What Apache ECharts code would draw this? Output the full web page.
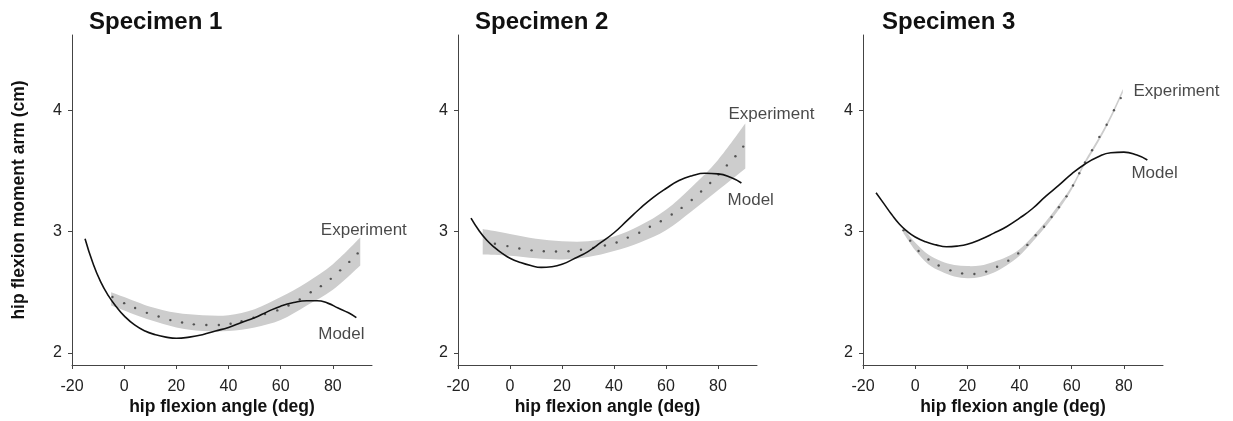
<!DOCTYPE html>
<html><head><meta charset="utf-8">
<script src="https://cdn.jsdelivr.net/npm/echarts@6/dist/echarts.min.js"></script>
<style>html,body{margin:0;padding:0;background:#fff}#c{width:1233px;height:421px}</style>
</head><body><div id="c"></div>
<script>
const titles = ['Specimen 1', 'Specimen 2', 'Specimen 3'];
const xTicks = [-20, 0, 20, 40, 60, 80];
const yTicks = [2, 3, 4];
const xAxisName = 'hip flexion angle (deg)';
const yAxisName = 'hip flexion moment arm (cm)';
const expLabel = 'Experiment';
const modelLabel = 'Model';

// Specimen 1
const s1ModelX = [-15, -12, -9, -6, -3, 0, 4, 8, 12, 16, 20, 25, 30, 35, 40, 45, 50, 55, 60, 65, 70, 74, 78, 82, 86, 89];
const s1ModelY = [2.94, 2.74, 2.585, 2.47, 2.38, 2.305, 2.23, 2.18, 2.15, 2.13, 2.12, 2.13, 2.15, 2.18, 2.21, 2.25, 2.29, 2.34, 2.385, 2.415, 2.43, 2.43, 2.41, 2.37, 2.33, 2.29];
const s1ExpX = [-4.5, 0, 4.2, 8.7, 13.2, 17.7, 22.2, 26.7, 31.5, 36.3, 40.8, 45, 49.6, 54, 58.7, 63, 67.3, 71.5, 75.4, 79.2, 82.8, 86.3, 89.5];
const s1ExpY = [2.46, 2.41, 2.37, 2.33, 2.30, 2.27, 2.25, 2.235, 2.23, 2.23, 2.24, 2.26, 2.29, 2.32, 2.35, 2.39, 2.44, 2.50, 2.55, 2.61, 2.68, 2.75, 2.82];
const s1BandX = [-5, 0, 10, 20, 30, 40, 50, 60, 70, 80, 90.5];
const s1BandUpper = [2.50, 2.46, 2.38, 2.33, 2.31, 2.31, 2.36, 2.46, 2.58, 2.73, 2.95];
const s1BandLower = [2.39, 2.35, 2.27, 2.21, 2.18, 2.18, 2.21, 2.27, 2.39, 2.52, 2.72];

// Specimen 2
const s2ModelX = [-15, -12, -9, -6, -3, 0, 4, 8, 12, 16, 20, 25, 30, 35, 40, 45, 50, 55, 60, 65, 70, 75, 80, 85, 89];
const s2ModelY = [3.11, 3.01, 2.93, 2.87, 2.82, 2.78, 2.745, 2.72, 2.705, 2.71, 2.73, 2.78, 2.835, 2.91, 2.99, 3.09, 3.19, 3.28, 3.355, 3.42, 3.46, 3.48, 3.475, 3.445, 3.40];
const s2ExpX = [-5.8, -1, 3.6, 8.3, 13, 17.7, 22.5, 27.3, 32, 36.5, 41, 45.3, 49.7, 53.8, 58, 62.2, 66, 69.9, 73.5, 77, 80.2, 83.4, 86.7, 89.7];
const s2ExpY = [2.90, 2.88, 2.86, 2.845, 2.837, 2.835, 2.838, 2.85, 2.865, 2.885, 2.91, 2.95, 2.99, 3.04, 3.085, 3.14, 3.195, 3.26, 3.33, 3.40, 3.47, 3.545, 3.62, 3.70];
const s2BandX = [-10.5, 0, 10, 20, 30, 40, 50, 60, 70, 80, 90.5];
const s2BandUpper = [3.02, 2.98, 2.94, 2.92, 2.92, 2.96, 3.05, 3.18, 3.37, 3.59, 3.89];
const s2BandLower = [2.81, 2.80, 2.78, 2.77, 2.79, 2.84, 2.91, 3.01, 3.17, 3.34, 3.52];

// Specimen 3
const s3ModelX = [-15, -12, -9, -6, -3, 0, 4, 8, 12, 16, 20, 25, 30, 35, 40, 45, 50, 55, 60, 65, 70, 75, 80, 85, 89];
const s3ModelY = [3.32, 3.23, 3.14, 3.06, 3.00, 2.955, 2.915, 2.89, 2.875, 2.88, 2.895, 2.935, 2.985, 3.04, 3.11, 3.19, 3.29, 3.38, 3.475, 3.555, 3.615, 3.65, 3.655, 3.63, 3.59];
const s3ExpX = [-4.5, -1.9, 1.3, 5.1, 9, 13.5, 18, 22.7, 27.2, 31.4, 35.7, 39.5, 43, 46.2, 49.4, 52.3, 55.1, 58, 60.5, 62.9, 65.1, 67.8, 70.6, 73.4, 76.2, 78.8];
const s3ExpY = [3.01, 2.925, 2.84, 2.77, 2.72, 2.68, 2.655, 2.65, 2.67, 2.71, 2.76, 2.82, 2.89, 2.97, 3.04, 3.12, 3.20, 3.29, 3.38, 3.48, 3.57, 3.67, 3.78, 3.88, 4.00, 4.10];
const s3BandX = [-4.5, 0, 5, 10, 15, 20, 25, 30, 35, 40, 45, 50, 55, 60, 65, 70, 75, 79.6];
const s3BandUpper = [3.03, 2.91, 2.81, 2.755, 2.725, 2.715, 2.72, 2.75, 2.79, 2.855, 2.96, 3.08, 3.22, 3.375, 3.58, 3.76, 3.96, 4.175];
const s3BandLower = [2.985, 2.845, 2.73, 2.67, 2.63, 2.615, 2.625, 2.66, 2.72, 2.80, 2.915, 3.04, 3.18, 3.345, 3.55, 3.73, 3.93, 4.145];

// label anchors (data coordinates where annotation text starts)
const expLabelAt = [[75.2, 3.01], [83.8, 3.97], [83.5, 4.155]];
const modelLabelAt = [[74.2, 2.15], [83.5, 3.26], [82.7, 3.48]];

const specimens = [
  {mx: s1ModelX, my: s1ModelY, ex: s1ExpX, ey: s1ExpY, bx: s1BandX, bu: s1BandUpper, bl: s1BandLower},
  {mx: s2ModelX, my: s2ModelY, ex: s2ExpX, ey: s2ExpY, bx: s2BandX, bu: s2BandUpper, bl: s2BandLower},
  {mx: s3ModelX, my: s3ModelY, ex: s3ExpX, ey: s3ExpY, bx: s3BandX, bu: s3BandUpper, bl: s3BandLower}
];

const FONT = '"Liberation Sans", Arial, Helvetica, sans-serif';
const gridLefts = [72, 458, 863];
const gridWidths = [300, 299, 300];
const titleLefts = [89, 475, 882];

// Catmull-Rom spline through pixel points -> SVG path commands (no leading M)
function splineCmds(p) {
  let d = '';
  for (let k = 0; k < p.length - 1; k++) {
    const p0 = p[Math.max(k - 1, 0)], p1 = p[k], p2 = p[k + 1], p3 = p[Math.min(k + 2, p.length - 1)];
    const c1 = [p1[0] + (p2[0] - p0[0]) / 6, p1[1] + (p2[1] - p0[1]) / 6];
    const c2 = [p2[0] - (p3[0] - p1[0]) / 6, p2[1] - (p3[1] - p1[1]) / 6];
    d += ' C' + c1[0].toFixed(2) + ' ' + c1[1].toFixed(2) + ' ' + c2[0].toFixed(2) + ' ' + c2[1].toFixed(2) + ' ' + p2[0].toFixed(2) + ' ' + p2[1].toFixed(2);
  }
  return d;
}

const grids = [], xAxes = [], yAxes = [], series = [], titleArr = [];
specimens.forEach((s, i) => {
  grids.push({left: gridLefts[i], top: 35, width: gridWidths[i], height: 330, containLabel: false});
  titleArr.push({text: titles[i], left: titleLefts[i], top: 10, padding: 0,
    textStyle: {fontFamily: FONT, fontSize: 24, fontWeight: 'bold', color: '#111'}});
  xAxes.push({
    type: 'value', gridIndex: i, min: -20, max: 95, interval: 20,
    name: xAxisName, nameLocation: 'middle', nameGap: 33, nameMoveOverlap: false,
    nameTextStyle: {fontFamily: FONT, fontSize: 17.5, fontWeight: 'bold', color: '#111'},
    axisLine: {show: true, onZero: false, lineStyle: {color: '#444', width: 1}},
    axisTick: {show: true, length: 4, customValues: xTicks, lineStyle: {color: '#444'}},
    axisLabel: {customValues: xTicks, fontFamily: FONT, fontSize: 16, color: '#222', margin: 14},
    splitLine: {show: false}
  });
  yAxes.push({
    type: 'value', gridIndex: i, min: 1.9, max: 4.62,
    name: i === 0 ? yAxisName : '', nameLocation: 'middle', nameGap: 44, nameRotate: 90, nameMoveOverlap: false,
    nameTextStyle: {fontFamily: FONT, fontSize: 17.5, fontWeight: 'bold', color: '#111'},
    axisLine: {show: true, onZero: false, lineStyle: {color: '#444', width: 1}},
    axisTick: {show: true, length: 4, customValues: yTicks, lineStyle: {color: '#444'}},
    axisLabel: {customValues: yTicks, fontFamily: FONT, fontSize: 16, color: '#222', margin: 10},
    splitLine: {show: false}
  });
  // shaded experimental band (upper edge forward, lower edge back)
  series.push({
    type: 'custom', xAxisIndex: i, yAxisIndex: i, silent: true, z: 1,
    data: s.bx.map((x, k) => [x, s.bl[k], s.bu[k]]),
    renderItem: (params, api) => {
      if (params.dataIndex !== 0) return null;
      const up = s.bx.map((x, k) => api.coord([x, s.bu[k]]));
      const lo = s.bx.map((x, k) => api.coord([x, s.bl[k]])).reverse();
      const d = 'M' + up[0][0] + ' ' + up[0][1] + splineCmds(up) +
        ' L' + lo[0][0] + ' ' + lo[0][1] + splineCmds(lo) + ' Z';
      return {type: 'path', shape: {pathData: d}, style: {fill: '#cdcdcd', stroke: null}};
    }
  });
  series.push({
    type: 'scatter', xAxisIndex: i, yAxisIndex: i, data: s.ex.map((x, k) => [x, s.ey[k]]),
    symbol: 'circle', symbolSize: 2.4, itemStyle: {color: '#333'}, silent: true, z: 3
  });
  series.push({
    type: 'line', xAxisIndex: i, yAxisIndex: i, data: s.mx.map((x, k) => [x, s.my[k]]),
    smooth: 0.5, symbol: 'none', lineStyle: {color: '#111', width: 1.6}, silent: true, z: 4
  });
  series.push({
    type: 'scatter', xAxisIndex: i, yAxisIndex: i,
    data: [[expLabelAt[i][0], expLabelAt[i][1], expLabel], [modelLabelAt[i][0], modelLabelAt[i][1], modelLabel]],
    symbolSize: 1, itemStyle: {color: 'transparent'}, silent: true, z: 5,
    label: {show: true, position: 'right', distance: 0, formatter: p => p.value[2],
      fontFamily: FONT, fontSize: 17, color: '#1a1a1a'}
  });
});

const chart = echarts.init(document.getElementById('c'), null, {renderer: 'canvas'});
chart.setOption({
  animation: false,
  backgroundColor: '#fff',
  title: titleArr,
  grid: grids,
  xAxis: xAxes,
  yAxis: yAxes,
  series: series
});
</script>
</body></html>
